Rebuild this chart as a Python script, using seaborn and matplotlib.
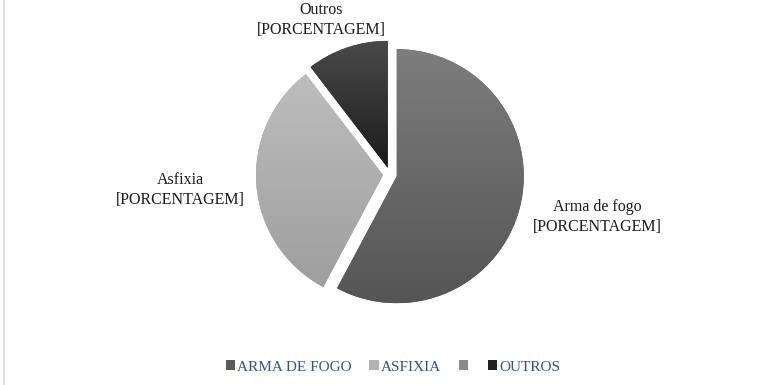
import matplotlib

matplotlib.use("Agg")
import matplotlib.pyplot as plt  # noqa: E402
import numpy as np  # noqa: E402
import seaborn as sns  # noqa: E402
from matplotlib.colors import LinearSegmentedColormap  # noqa: E402
from matplotlib.patches import Patch  # noqa: E402

# data
categories = ["Arma de fogo", "Asfixia", "Outros"]
shares = [57.8, 31.8, 10.4]
slice_labels = ["Arma de fogo\n[PORCENTAGEM]", "Asfixia\n[PORCENTAGEM]", "Outros\n[PORCENTAGEM]"]
legend_labels = ["ARMA DE FOGO", "ASFIXIA", "", "OUTROS"]

# (top, bottom) gradient colours per slice
grad_colors = [("#7d7d7d", "#555555"), ("#bdbdbd", "#9f9f9f"), ("#4a4a4a", "#1b1b1b")]
legend_colors = ["#5c5c5c", "#b3b3b3", "#8a8a8a", "#222222"]

sns.set_theme(style="white")
plt.rcParams["font.family"] = ["Liberation Serif", "DejaVu Serif"]

W, H = 771, 385
fig = plt.figure(figsize=(W / 100, H / 100), dpi=100)
ax = fig.add_axes([0, 0, 1, 1])

cx, cy, r = 390, H - 174.5, 127
# explode is in data units here (1 unit = 1 px)
wedges, _ = ax.pie(
    shares,
    startangle=90,
    counterclock=False,
    explode=[7] * len(shares),
    center=(cx, cy),
    radius=r,
    colors=[c[1] for c in grad_colors],
    wedgeprops=dict(linewidth=0),
    frame=False,
)

# vertical gradient fill clipped to each wedge
grad = np.linspace(0, 1, 256).reshape(-1, 1)
for w, (top, bot) in zip(wedges, grad_colors):
    cmap = LinearSegmentedColormap.from_list("g", [bot, top])
    bb = w.get_path().get_extents(w.get_patch_transform())
    im = ax.imshow(
        grad,
        cmap=cmap,
        extent=(bb.x0, bb.x1, bb.y0, bb.y1),
        origin="lower",
        aspect="auto",
        zorder=w.get_zorder() + 0.1,
    )
    im.set_clip_path(w)

ax.set_xlim(0, W)
ax.set_ylim(0, H)
ax.set_aspect("auto")
ax.axis("off")

label_pos = [(597, 217), (180, 190), (321, 20)]
for txt, (x, y) in zip(slice_labels, label_pos):
    ax.text(x, H - y, txt, ha="center", va="center", fontsize=11.5,
            color="#1a1a1a", linespacing=1.3)

# thin chart-area border on the left
ax.plot([3.5, 3.5], [0, H], color="#d6dde8", lw=1.2)

handles = [Patch(facecolor=c, edgecolor="none") for c in legend_colors]
fig.legend(
    handles,
    legend_labels,
    loc="center",
    bbox_to_anchor=(393 / W, 1 - 367 / H),
    ncol=4,
    frameon=False,
    fontsize=11,
    labelcolor="#2e5592",
    handlelength=0.6,
    handleheight=0.6,
    handletextpad=0.15,
    columnspacing=1.15,
)

fig.savefig("out.png", dpi=100)
plt.close(fig)
